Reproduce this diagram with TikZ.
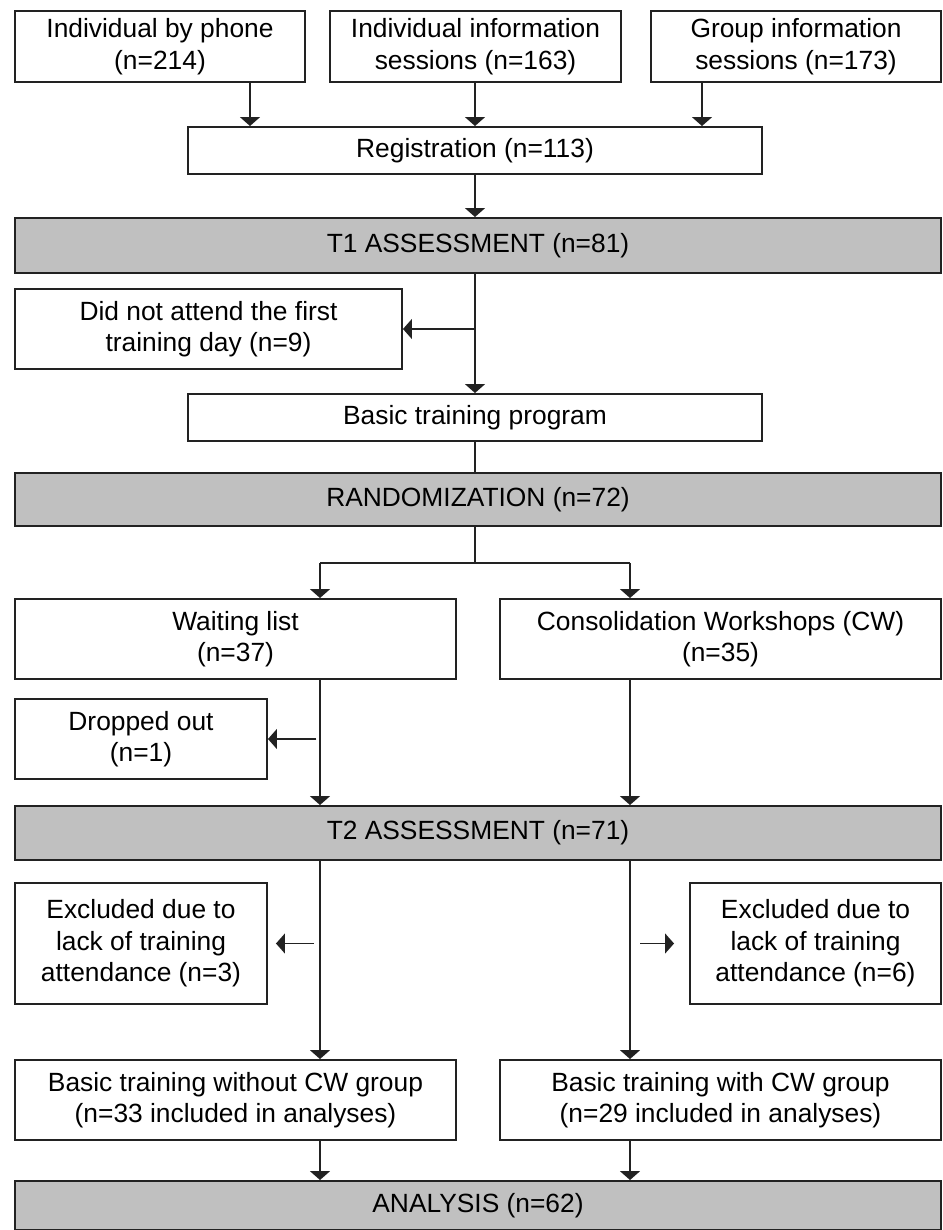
\documentclass[tikz,border=0pt]{standalone}
\usepackage{fontspec}
\setmainfont{Liberation Sans}
\usetikzlibrary{arrows.meta,positioning,calc}
\definecolor{boxline}{HTML}{222222}
\definecolor{phasegray}{HTML}{C0C0C0}
\begin{document}
\begin{tikzpicture}[>={Triangle[width=0.4cm,length=0.18cm]},
  box/.style={draw=boxline,line width=1.1pt,fill=white,align=center,inner sep=0pt,
    font=\fontsize{15}{17.9}\selectfont},
  phase/.style={box,fill=phasegray},
  a/.style={->,line width=0.9pt,boxline},
  l/.style={line width=0.9pt,boxline}]
\useasboundingbox (0,0) rectangle (18.86,-24.6);
\node[box,minimum width=5.8cm,minimum height=1.42cm] (phone) at (3.2,-0.93) {Individual by phone\\(n=214)};
\node[box,minimum width=5.82cm,minimum height=1.42cm] (infosess) at (9.51,-0.93) {Individual information\\sessions (n=163)};
\node[box,minimum width=5.8cm,minimum height=1.42cm] (groupsess) at (15.92,-0.93) {Group information\\sessions (n=173)};
\node[box,minimum width=11.48cm,minimum height=0.94cm] (reg) at (9.5,-3.01) {Registration (n=113)};
\node[phase,minimum width=18.52cm,minimum height=1.1cm] (t1) at (9.56,-4.91) {T1 ASSESSMENT (n=81)};
\node[box,minimum width=7.74cm,minimum height=1.6cm] (noshow) at (4.17,-6.58) {Did not attend the first\\training day (n=9)};
\node[box,minimum width=11.48cm,minimum height=0.94cm] (basic) at (9.5,-8.35) {Basic training program};
\node[phase,minimum width=18.52cm,minimum height=1.06cm] (rand) at (9.56,-9.99) {RANDOMIZATION (n=72)};
\node[box,minimum width=8.82cm,minimum height=1.6cm] (waitlist) at (4.71,-12.78) {Waiting list\\(n=37)};
\node[box,minimum width=8.82cm,minimum height=1.6cm] (cw) at (14.41,-12.78) {Consolidation Workshops (CW)\\(n=35)};
\node[box,minimum width=5.04cm,minimum height=1.6cm] (dropped) at (2.82,-14.78) {Dropped out\\(n=1)};
\node[phase,minimum width=18.52cm,minimum height=1.08cm] (t2) at (9.56,-16.66) {T2 ASSESSMENT (n=71)};
\node[box,minimum width=5.04cm,minimum height=2.42cm] (excla) at (2.82,-18.87) {Excluded due to\\lack of training\\attendance (n=3)};
\node[box,minimum width=5.02cm,minimum height=2.42cm] (exclb) at (16.31,-18.87) {Excluded due to\\lack of training\\attendance (n=6)};
\node[box,minimum width=8.82cm,minimum height=1.6cm] (nocw) at (4.71,-22.0) {Basic training without CW group\\(n=33 included in analyses)};
\node[box,minimum width=8.82cm,minimum height=1.6cm] (withcw) at (14.41,-22.0) {Basic training with CW group\\(n=29 included in analyses)};
\node[phase,minimum width=18.52cm,minimum height=0.98cm] (analysis) at (9.56,-24.11) {ANALYSIS (n=62)};
\coordinate (c1) at (5.0,0); \coordinate (c3) at (14.04,0);
\coordinate (lc) at (6.4,0); \coordinate (rc) at (12.6,0);
\draw[a] (phone.south -| c1)--(reg.north -| c1);
\draw[a] (infosess.south -| reg)--(reg.north);
\draw[a] (groupsess.south -| c3)--(reg.north -| c3);
\draw[a] (reg.south)--(t1.north -| reg);
\draw[a] (t1.south -| basic)--(basic.north);
\draw[a] (noshow.east -| basic)--(noshow.east);
\draw[l] (basic.south)--(rand.north -| basic);
\draw[l] (rand.south -| basic)--++(0,-0.72) coordinate (split);
\draw[l] (split -| lc)--(split -| rc);
\draw[a] (split -| lc)--(waitlist.north -| lc);
\draw[a] (split -| rc)--(cw.north -| rc);
\draw[a] (waitlist.south -| lc)--(t2.north -| lc);
\draw[a] (cw.south -| rc)--(t2.north -| rc);
\draw[a,shorten <=2pt] (dropped.east -| lc)--(dropped.east);
\draw[a] (t2.south -| lc)--(nocw.north -| lc);
\draw[a] (t2.south -| rc)--(withcw.north -| rc);
\draw[a,shorten <=0.12cm,shorten >=0.16cm] (excla.east -| lc)--(excla.east);
\draw[a,shorten <=0.2cm,shorten >=0.3cm] (exclb.west -| rc)--(exclb.west);
\draw[a] (nocw.south -| lc)--(analysis.north -| lc);
\draw[a] (withcw.south -| rc)--(analysis.north -| rc);
\end{tikzpicture}
\end{document}
